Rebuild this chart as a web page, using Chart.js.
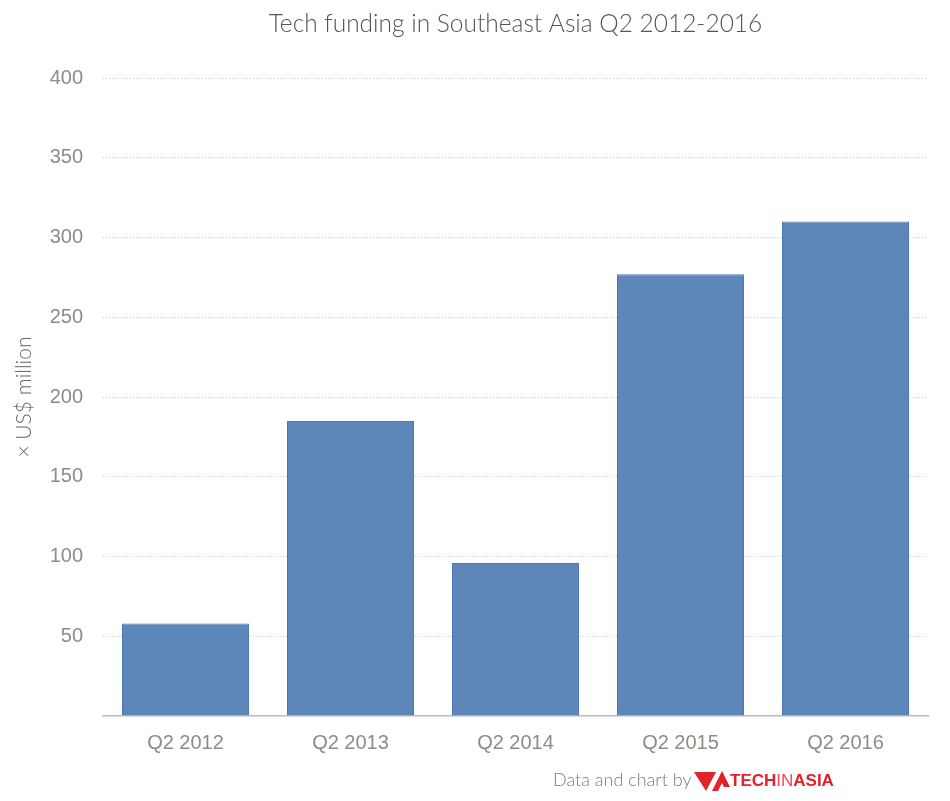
<!DOCTYPE html>
<html>
<head>
<meta charset="utf-8">
<script src="https://cdn.jsdelivr.net/npm/chart.js@4.4.0/dist/chart.umd.min.js"></script>
<style>
  html, body { margin: 0; padding: 0; background: #fff; }
  #wrap { width: 950px; height: 801px; }
</style>
</head>
<body>
<div id="wrap"><canvas id="funding"></canvas></div>
<script>
const quarters = ['Q2 2012', 'Q2 2013', 'Q2 2014', 'Q2 2015', 'Q2 2016'];
const funding = [58, 185, 96, 277, 310];
const yTicks = [50, 100, 150, 200, 250, 300, 350, 400];

const titleText = 'Tech funding in Southeast Asia Q2 2012-2016';
const creditText = 'Data and chart by';

// title over the plot area + credit line with the logo at the bottom
const decorations = {
    id: 'decorations',
    afterDraw(chart) {
        const ctx = chart.ctx;
        const area = chart.chartArea;
        ctx.save();
        ctx.fillStyle = '#555555';
        ctx.font = '300 24.5px Lato';
        ctx.textAlign = 'center';
        ctx.textBaseline = 'middle';
        ctx.fillText(titleText, (area.left + area.right) / 2, 24);

        ctx.fillStyle = '#7a7a7a';
        ctx.font = '300 18px Lato';
        ctx.textAlign = 'left';
        ctx.textBaseline = 'alphabetic';
        ctx.fillText(creditText, 553, 786);

        // logo mark
        ctx.fillStyle = '#e3212b';
        ctx.beginPath();
        ctx.moveTo(694, 772);
        ctx.lineTo(716, 772);
        ctx.lineTo(706, 791);
        ctx.closePath();
        ctx.fill();
        ctx.beginPath();
        ctx.moveTo(712, 791);
        ctx.lineTo(722, 771);
        ctx.lineTo(730, 787);
        ctx.lineTo(724, 787);
        ctx.lineTo(722, 783);
        ctx.lineTo(718, 791);
        ctx.closePath();
        ctx.fill();

        let x = 730;
        ctx.font = 'bold 17px "Liberation Sans"';
        ctx.fillText('TECH', x, 786);
        x += ctx.measureText('TECH').width;
        ctx.font = '17px "Liberation Sans"';
        ctx.fillStyle = '#ea4b52';
        ctx.fillText('IN', x, 786);
        x += ctx.measureText('IN').width;
        ctx.font = 'bold 17px "Liberation Sans"';
        ctx.fillStyle = '#e3212b';
        ctx.fillText('ASIA', x, 786);
        ctx.restore();
    }
};

new Chart(document.getElementById('funding'), {
    type: 'bar',
    data: {
        labels: quarters,
        datasets: [{
            label: 'Funding',
            data: funding,
            backgroundColor: '#5e87b9',
            borderColor: '#4a78b2',
            borderWidth: 1,
            categoryPercentage: 0.77,
            barPercentage: 1
        }]
    },
    options: {
        responsive: true,
        maintainAspectRatio: false,
        animation: false,
        layout: {
            padding: { top: 78, right: 22, bottom: 39, left: 0 }
        },
        plugins: {
            legend: { display: false },
            tooltip: { enabled: false }
        },
        scales: {
            x: {
                grid: { display: false },
                border: { display: true, color: '#b4bcc6', width: 1.5 },
                ticks: {
                    color: '#8f8c86',
                    font: { family: '"Liberation Sans"', size: 20 },
                    padding: 7
                }
            },
            y: {
                min: 0,
                max: 400,
                afterFit(scale) { scale.width = 103; },
                afterBuildTicks(scale) {
                    scale.ticks = [0].concat(yTicks).map(v => ({ value: v }));
                },
                border: { display: false, dash: [1, 2] },
                grid: {
                    color: ctx => ctx.tick && ctx.tick.value === 0 ? 'rgba(0,0,0,0)' : '#c8c8c8',
                    lineWidth: 1,
                    drawTicks: false
                },
                ticks: {
                    color: '#8f8c86',
                    font: { family: '"Liberation Sans"', size: 20 },
                    padding: 20,
                    callback: v => v === 0 ? '' : v
                },
                title: {
                    display: true,
                    text: '× US$ million',
                    color: '#666666',
                    font: { family: 'Lato', size: 21, weight: '300' },
                    padding: { top: 12, bottom: 0 }
                }
            }
        }
    },
    plugins: [decorations]
});
</script>
</body>
</html>
